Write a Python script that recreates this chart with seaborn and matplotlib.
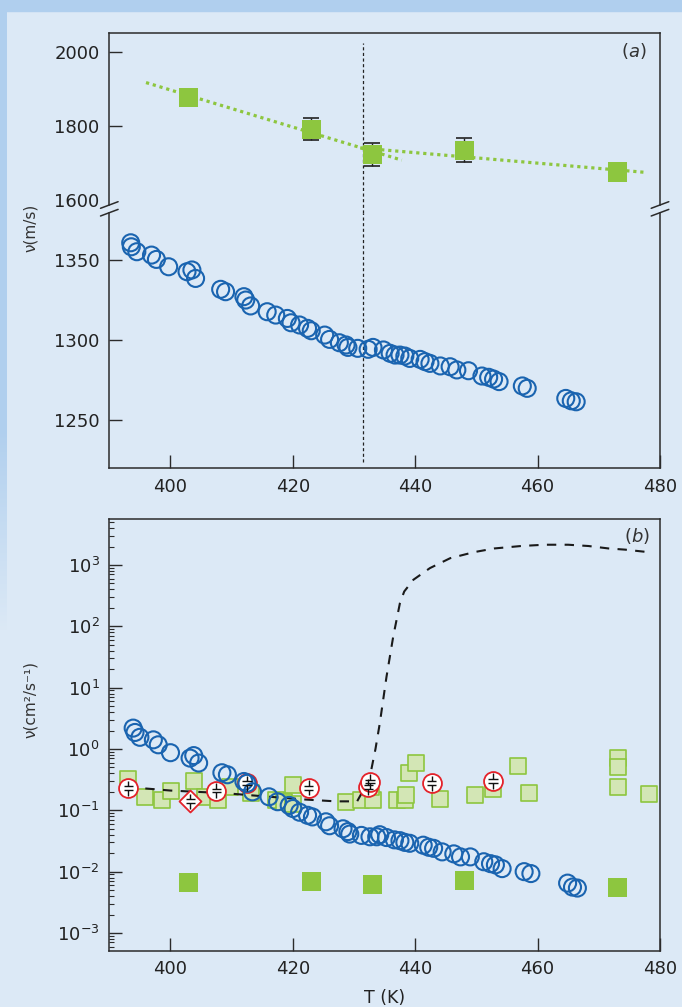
import numpy as np
import matplotlib
matplotlib.use("Agg")
import matplotlib.pyplot as plt
import matplotlib.ticker as mticker
from matplotlib.path import Path
from matplotlib.lines import Line2D
from matplotlib.patches import Rectangle
import seaborn as sns

# ---------- data ----------
# (a) sound velocity, open circles
T_sound = [393.5, 393.6, 394.5, 396.9, 397.7, 399.7, 402.7, 403.5, 404.1, 408.2,
           409.0, 412.0, 412.3, 413.1, 415.8, 417.2, 419.1, 419.7, 421.1, 422.4,
           423.0, 425.2, 426.0, 427.6, 428.7, 429.0, 430.6, 432.3, 433.1, 434.8,
           435.9, 436.7, 437.5, 438.3, 439.1, 440.8, 441.6, 442.4, 444.1, 445.7,
           446.8, 448.7, 450.9, 452.0, 452.8, 453.7, 457.5, 458.3, 464.6, 465.5,
           466.3]
v_sound = [1360.8, 1358.3, 1355.2, 1353.1, 1350.4, 1345.8, 1342.7, 1343.8, 1338.5, 1331.7,
           1330.2, 1327.1, 1325.0, 1321.3, 1317.7, 1315.6, 1313.5, 1310.8, 1309.4, 1307.3,
           1305.8, 1303.1, 1300.4, 1298.3, 1296.9, 1295.4, 1294.8, 1294.2, 1295.4, 1293.8,
           1291.7, 1290.6, 1290.6, 1290.0, 1288.5, 1287.9, 1286.5, 1285.4, 1283.8, 1283.3,
           1281.3, 1280.8, 1277.5, 1276.7, 1275.6, 1274.0, 1271.3, 1269.8, 1263.5, 1262.0,
           1261.4]

# (a) high-frequency velocity, filled squares with error bars
T_green = [403, 423, 433, 448, 473]
v_green = [1878, 1792, 1724, 1735, 1676]
v_green_err = [0, 30, 31, 32, 0]

# (a) dotted guide lines
fit1_T = [396.0, 437.8]
fit1_v = [1918, 1708]
fit2_T = [431.0, 477.5]
fit2_v = [1741, 1675]
T_transition = 431.4

# (b) kinematic viscosity, open circles
T_visc = [393.9, 394.2, 395.0, 397.2, 398.0, 400.0, 403.2, 403.8, 404.6, 408.4,
          409.3, 412.0, 412.5, 413.4, 416.1, 417.5, 419.4, 420.0, 421.1, 422.4,
          423.2, 425.4, 426.0, 428.2, 429.0, 429.3, 431.2, 432.6, 433.7, 434.2,
          435.3, 436.6, 437.5, 438.3, 439.1, 441.3, 442.2, 443.0, 444.4, 446.3,
          447.4, 449.0, 451.2, 452.3, 453.1, 454.2, 457.8, 458.9, 464.9, 465.7,
          466.5]
nu_visc = [2.19, 1.86, 1.55, 1.41, 1.17, 0.87, 0.71, 0.78, 0.59, 0.41,
           0.38, 0.295, 0.275, 0.20, 0.166, 0.138, 0.120, 0.107, 0.093, 0.083,
           0.078, 0.065, 0.056, 0.050, 0.045, 0.041, 0.039, 0.037, 0.037, 0.040,
           0.036, 0.033, 0.032, 0.030, 0.029, 0.027, 0.025, 0.024, 0.021, 0.0195,
           0.0174, 0.0174, 0.0145, 0.0135, 0.0129, 0.0112, 0.0100, 0.0093, 0.0065, 0.0056,
           0.0054]

# (b) pale open squares
T_pale = [393.1, 395.8, 398.6, 400.1, 403.9, 405.7, 407.7, 409.8, 413.1, 417.2,
          418.6, 420.0, 420.0, 428.7, 431.2, 433.1, 432.8, 437.0, 438.3, 438.5,
          439.0, 440.1, 444.0, 449.8, 452.7, 456.8, 458.6, 473.1, 473.1, 473.1,
          478.2]
nu_pale = [0.32, 0.166, 0.148, 0.21, 0.30, 0.166, 0.148, 0.24, 0.19, 0.148,
           0.138, 0.26, 0.129, 0.138, 0.148, 0.148, 0.24, 0.148, 0.148, 0.178,
           0.40, 0.60, 0.151, 0.178, 0.22, 0.52, 0.19, 0.71, 0.51, 0.24,
           0.186]

# (b) red circled points with error symbol, and one diamond
T_err = [393.1, 407.5, 412.5, 422.6, 432.3, 432.6, 442.7, 452.7]
nu_err = [0.23, 0.21, 0.275, 0.234, 0.24, 0.295, 0.275, 0.30]
T_diamond = [403.2]
nu_diamond = [0.141]

# (b) filled squares
nu_green = [0.0066, 0.0069, 0.0062, 0.0071, 0.0056]

# (b) dashed curve
T_model = [393, 400, 409, 415, 422, 427, 430.5, 432.5, 433.5, 434.2, 435.3, 436.4, 437.5,
           438.2, 439.7, 442.4, 445.7, 449.6, 452.9, 457.3, 461.1, 465, 468.3, 471.6,
           474.3, 478.1]
nu_model = [0.24, 0.21, 0.19, 0.17, 0.15, 0.14, 0.14, 0.32, 1.0, 2.6, 15, 68, 240,
            370, 575, 890, 1290, 1620, 1860, 2040, 2140, 2140, 2040, 1860,
            1780, 1620]

# ---------- style ----------
BG = "#dce9f6"
FRAME = "#b0cfee"
BLUE = "#1a64b0"
GREEN = "#8dc63f"
PALE = "#d3e6b5"
RED = "#e4222a"
INK = "#2b2b2b"

sns.set_theme(style="ticks")
plt.rcParams["font.family"] = ["DejaVu Sans"]
plt.rcParams.update({
    "axes.facecolor": "none",
    "axes.edgecolor": INK,
    "axes.linewidth": 1.1,
    "xtick.color": INK,
    "ytick.color": INK,
    "xtick.labelcolor": "#222222",
    "ytick.labelcolor": "#222222",
    "xtick.labelsize": 13,
    "ytick.labelsize": 13,
})

W, H = 682, 1007


def fx(px):
    return px / W


def fy(py):
    return 1 - py / H


fig = plt.figure(figsize=(W / 100, H / 100), dpi=100, facecolor=BG)

# page decoration: top band and fading left band
fig.add_artist(Rectangle((0, fy(11)), 1, 11 / H, transform=fig.transFigure,
                         color=FRAME, zorder=0))
strip = fig.add_axes([0, fy(640), fx(7), 640 / H], zorder=0)
alpha = np.interp(np.arange(640), [0, 430, 630], [1, 1, 0])
rgba = np.zeros((640, 1, 4))
rgba[..., :3] = matplotlib.colors.to_rgb(FRAME)
rgba[:, 0, 3] = alpha
strip.imshow(rgba, aspect="auto")
strip.axis("off")

left, right = 109.3, 660.0
ax_top = fig.add_axes([fx(left), fy(205), fx(right - left), (205 - 33.3) / H])
ax_bot = fig.add_axes([fx(left), fy(468), fx(right - left), (468 - 212.7) / H])
ax_b = fig.add_axes([fx(left), fy(950.7), fx(right - left), (950.7 - 519) / H])

for ax in (ax_top, ax_bot, ax_b):
    ax.set_xlim(390, 480)
    ax.tick_params(which="major", direction="in", length=9.4, width=1.0,
                   top=False, right=False, pad=7)
    ax.tick_params(which="minor", direction="in", length=3.6, width=0.8,
                   top=False, right=False)
    for s in ax.spines.values():
        s.set_visible(True)

# ---------- panel (a) ----------
ax_top.set_ylim(1586.5, 2051.4)
ax_top.set_yticks([1600, 1800, 2000])
ax_top.yaxis.get_major_ticks()[0].tick1line.set_visible(False)
ax_top.tick_params(axis="x", bottom=False, labelbottom=False)
ax_top.spines["bottom"].set_visible(False)

ax_bot.set_ylim(1220, 1379.6)
ax_bot.set_yticks([1250, 1300, 1350])
ax_bot.set_xticks([400, 420, 440, 460, 480])
ax_bot.spines["top"].set_visible(False)

dotted = (0, (1, 1.2))
sns.lineplot(x=fit1_T, y=fit1_v, ax=ax_top, color=GREEN, lw=2.3,
             linestyle=dotted, sort=False, estimator=None, zorder=2)
sns.lineplot(x=fit2_T, y=fit2_v, ax=ax_top, color=GREEN, lw=2.3,
             linestyle=dotted, sort=False, estimator=None, zorder=2)
ax_top.errorbar(T_green, v_green, yerr=v_green_err, fmt="none", ecolor="#222222",
                elinewidth=1.0, capsize=5.5, capthick=1.2, zorder=3)
sns.scatterplot(x=T_green, y=v_green, ax=ax_top, marker="s", s=190,
                color=GREEN, edgecolor="none", linewidth=0, zorder=4)

sns.scatterplot(x=T_sound, y=v_sound, ax=ax_bot, marker="o", s=150,
                facecolor="none", edgecolor=BLUE, linewidth=1.5, zorder=3)

ax_top.axvline(T_transition, ymin=-0.045, ymax=0.943, color="#222222", lw=0.9,
               linestyle=(0, (2.5, 2)), clip_on=False, zorder=1)
ax_bot.axvline(T_transition, ymin=0.023, ymax=1.0, color="#222222", lw=0.9,
               linestyle=(0, (2.5, 2)), zorder=1)

# axis break marks on both spines
for xb in (left, right):
    for yc in (205.0, 212.7):
        fig.add_artist(Line2D([fx(xb - 8.8), fx(xb + 8.8)],
                              [fy(yc + 3.3), fy(yc - 3.3)],
                              transform=fig.transFigure, color=INK, lw=1.1))

ax_top.text(0.976, 0.897, r"($\it{a}$)", transform=ax_top.transAxes,
            ha="right", va="center", fontsize=13, color="#333333")

# ---------- panel (b) ----------
ax_b.set_yscale("log")
ax_b.set_ylim(10 ** -3.289, 10 ** 3.75)
ax_b.yaxis.set_major_locator(mticker.FixedLocator([1e-3, 1e-2, 1e-1, 1e0, 1e1, 1e2, 1e3]))
ax_b.yaxis.set_major_formatter(mticker.LogFormatterSciNotation())
ax_b.yaxis.set_minor_locator(mticker.LogLocator(base=10, subs=np.arange(2, 10), numticks=20))
ax_b.yaxis.set_minor_formatter(mticker.NullFormatter())
ax_b.set_xticks([400, 420, 440, 460, 480])

sns.scatterplot(x=T_pale, y=nu_pale, ax=ax_b, marker="s", s=135,
                facecolor=PALE, edgecolor=GREEN, linewidth=1.2, zorder=2)
sns.lineplot(x=T_model, y=nu_model, ax=ax_b, color="#1a1a1a", lw=1.5,
             linestyle=(0, (4.5, 4)), sort=False, estimator=None, zorder=3)
sns.scatterplot(x=T_err, y=nu_err, ax=ax_b, marker="o", s=185,
                facecolor="white", edgecolor=RED, linewidth=1.3, zorder=4)
sns.scatterplot(x=T_diamond, y=nu_diamond, ax=ax_b, marker="D", s=125,
                facecolor="white", edgecolor=RED, linewidth=1.3, zorder=4)
sns.scatterplot(x=T_visc, y=nu_visc, ax=ax_b, marker="o", s=150,
                facecolor="none", edgecolor=BLUE, linewidth=1.5, zorder=5)

# error-bar glyph inside the red markers
cap = Path([(0, 1), (0, 0.25), (-0.6, 0.25), (0.6, 0.25),
            (-0.6, -0.25), (0.6, -0.25), (0, -0.25), (0, -1)],
           [Path.MOVETO, Path.LINETO, Path.MOVETO, Path.LINETO,
            Path.MOVETO, Path.LINETO, Path.MOVETO, Path.LINETO])
sns.scatterplot(x=T_err + T_diamond, y=nu_err + nu_diamond, ax=ax_b, marker=cap,
                s=120, facecolor="none", edgecolor="#111111", linewidth=1.0, zorder=6)

sns.scatterplot(x=T_green, y=nu_green, ax=ax_b, marker="s", s=190,
                color=GREEN, edgecolor="none", linewidth=0, zorder=4)

ax_b.text(0.982, 0.9606, r"($\it{b}$)", transform=ax_b.transAxes,
          ha="right", va="center", fontsize=13, color="#333333")

for ax in (ax_top, ax_bot, ax_b):
    ax.set_xlabel("")
    ax.set_ylabel("")

fig.text(fx(30), fy(228), "ν(m/s)", rotation=90, ha="center", va="center",
         fontsize=11, color="#333333")
fig.text(fx(30), fy(700), "ν(cm²/s⁻¹)", rotation=90, ha="center", va="center",
         fontsize=11, color="#333333")
fig.text(fx(385), fy(998), "T (K)", ha="center", va="center",
         fontsize=12.5, color="#222222")

fig.savefig("out.png", dpi=100, facecolor=BG)
